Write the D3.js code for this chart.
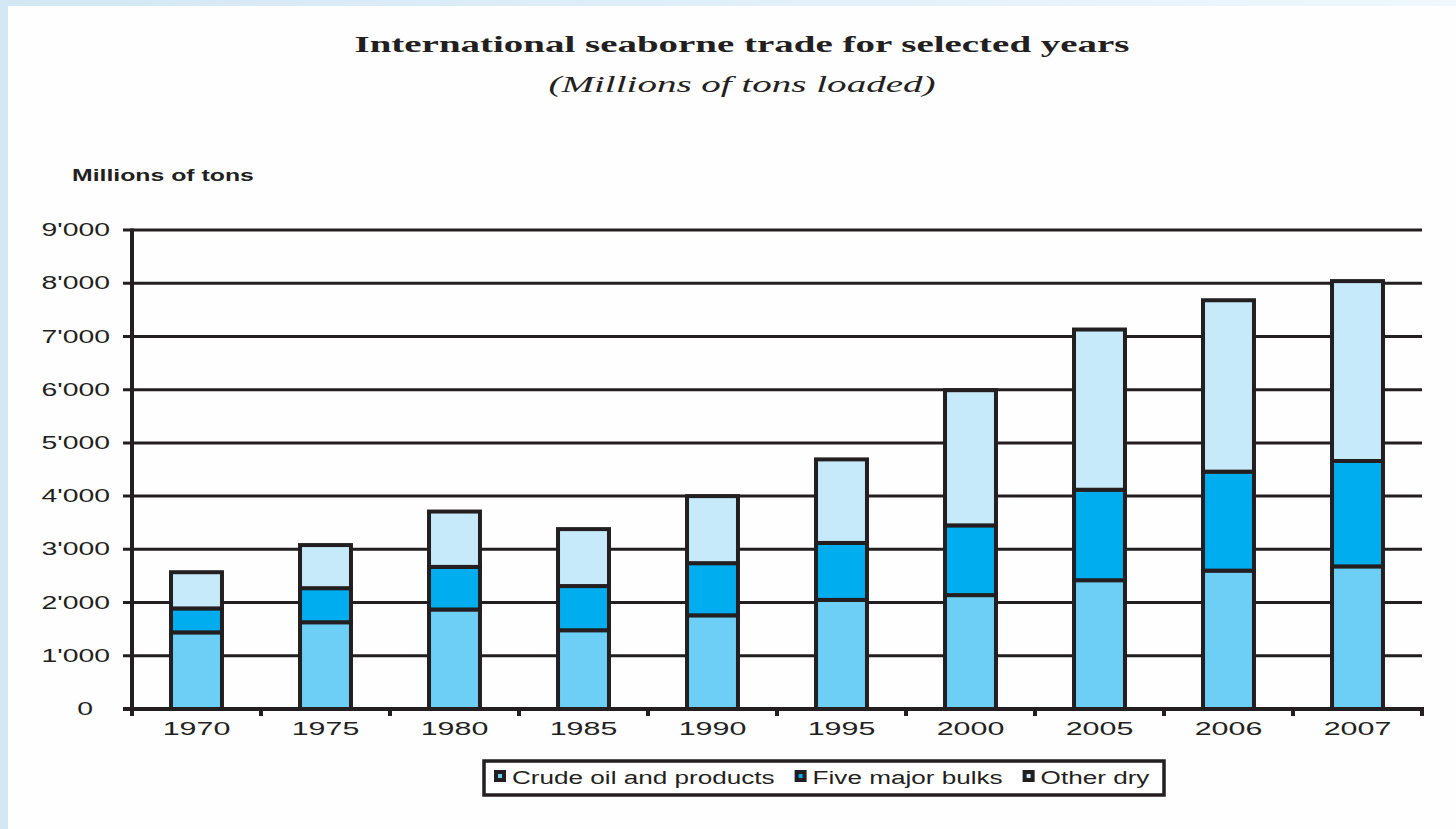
<!DOCTYPE html>
<html>
<head>
<meta charset="utf-8">
<script src="https://cdn.jsdelivr.net/npm/d3@7"></script>
<style>
  html, body { margin: 0; padding: 0; background: #ffffff; }
  svg { display: block; }
</style>
</head>
<body>
<svg id="chart" width="1456" height="829"></svg>
<script>
// ---------- data ----------
const years = ["1970", "1975", "1980", "1985", "1990", "1995", "2000", "2005", "2006", "2007"];
const crudeOil = [1440, 1630, 1870, 1480, 1760, 2050, 2140, 2420, 2600, 2680];
const fiveMajorBulks = [450, 640, 800, 830, 980, 1070, 1310, 1700, 1860, 1980];
const otherDry = [680, 810, 1040, 1070, 1260, 1570, 2540, 3010, 3220, 3380];
const seriesNames = ["Crude oil and products", "Five major bulks", "Other dry"];
const yTicks = [0, 1000, 2000, 3000, 4000, 5000, 6000, 7000, 8000, 9000];
const titleText = "International seaborne trade for selected years";
const subtitleText = "(Millions of tons loaded)";
const yAxisTitle = "Millions of tons";

// ---------- styling ----------
const colors = ["#6dcff6", "#00aeef", "#c7eafb"];
const ink = "#231f20";
const sans = "'Liberation Sans', Arial, sans-serif";
const serif = "'Liberation Serif', 'Times New Roman', serif";

const svg = d3.select("#chart");

// background frame
const defs = svg.append("defs");
const grad = defs.append("linearGradient").attr("id", "topg").attr("x1", "0").attr("x2", "1").attr("y1", "0").attr("y2", "0");
grad.append("stop").attr("offset", "0").attr("stop-color", "#d2e7f4");
grad.append("stop").attr("offset", "1").attr("stop-color", "#eef8fe");
svg.append("rect").attr("width", 1456).attr("height", 829).attr("fill", "url(#topg)");
svg.append("rect").attr("x", 0).attr("y", 0).attr("width", 8).attr("height", 829).attr("fill", "#d3e8f5");
svg.append("rect").attr("x", 8).attr("y", 6).attr("width", 1448).attr("height", 823).attr("fill", "#fefefe");

// helper: horizontally stretch a text selection
function stretch(sel, k) {
  sel.each(function () {
    const len = this.getComputedTextLength();
    d3.select(this).attr("textLength", len * k).attr("lengthAdjust", "spacingAndGlyphs");
  });
}

// ---------- scales ----------
const x = d3.scaleBand().domain(years).range([132, 1422]).paddingInner(0.605).paddingOuter(0.3025);
const y = d3.scaleLinear().domain([0, 9000]).range([709, 230]);
const step = x.step();

// ---------- titles ----------
svg.append("text").attr("x", 742).attr("y", 52).attr("text-anchor", "middle")
  .attr("font-family", serif).attr("font-weight", "bold").attr("font-size", 23).attr("fill", ink)
  .attr("textLength", 775).attr("lengthAdjust", "spacingAndGlyphs").text(titleText);
svg.append("text").attr("x", 742).attr("y", 92).attr("text-anchor", "middle")
  .attr("font-family", serif).attr("font-style", "italic").attr("font-size", 23).attr("fill", ink)
  .attr("textLength", 387).attr("lengthAdjust", "spacingAndGlyphs").text(subtitleText);

svg.append("text").attr("x", 72).attr("y", 181)
  .attr("font-family", sans).attr("font-weight", "bold").attr("font-size", 16).attr("fill", ink)
  .text(yAxisTitle).call(stretch, 1.55);

// ---------- gridlines ----------
svg.append("g").selectAll("line").data(yTicks.filter(d => d > 0)).join("line")
  .attr("x1", 123).attr("x2", 1422)
  .attr("y1", d => y(d)).attr("y2", d => y(d))
  .attr("stroke", ink).attr("stroke-width", 3);

// ---------- y axis labels ----------
const fmt = d => d === 0 ? "0" : d3.format(",")(d).replace(",", "'");
const yAxis = svg.append("g").attr("transform", "translate(123,0)")
  .call(d3.axisLeft(y).tickValues(yTicks).tickSize(0).tickPadding(13).tickFormat(fmt));
yAxis.select(".domain").remove();
yAxis.selectAll("text").attr("font-family", sans).attr("font-size", 17.5).attr("fill", ink)
  .attr("dx", d => d === 0 ? -17 : 0).call(stretch, 1.62);

// ---------- bars ----------
const table = years.map((yr, i) => ({ year: yr, crude: crudeOil[i], bulks: fiveMajorBulks[i], other: otherDry[i] }));
const stack = d3.stack().keys(["crude", "bulks", "other"]);
const layers = stack(table);

svg.append("g").selectAll("g").data(layers).join("g")
  .attr("fill", (d, i) => colors[i])
  .selectAll("rect").data(d => d).join("rect")
  .attr("x", d => x(d.data.year))
  .attr("width", x.bandwidth())
  .attr("y", d => y(d[1]))
  .attr("height", d => y(d[0]) - y(d[1]))
  .attr("stroke", ink).attr("stroke-width", 4).attr("stroke-linejoin", "miter");

// ---------- axes lines ----------
svg.append("line").attr("x1", 123).attr("x2", 1424).attr("y1", y(0)).attr("y2", y(0))
  .attr("stroke", ink).attr("stroke-width", 4);
svg.append("line").attr("x1", 132).attr("x2", 132).attr("y1", y(9000) - 1.5).attr("y2", y(0) + 7)
  .attr("stroke", ink).attr("stroke-width", 4);
svg.append("g").selectAll("line").data(d3.range(years.length + 1)).join("line")
  .attr("x1", i => 132 + i * step).attr("x2", i => 132 + i * step)
  .attr("y1", y(0)).attr("y2", y(0) + 7)
  .attr("stroke", ink).attr("stroke-width", 4);

// ---------- x axis labels ----------
const xAxis = svg.append("g").attr("transform", `translate(0,${y(0)})`)
  .call(d3.axisBottom(x).tickSize(0).tickPadding(13));
xAxis.select(".domain").remove();
xAxis.selectAll("text").attr("font-family", sans).attr("font-size", 19).attr("fill", ink).call(stretch, 1.6);

// ---------- legend ----------
const legend = svg.append("g");
legend.append("rect").attr("x", 484).attr("y", 761).attr("width", 680).attr("height", 34)
  .attr("fill", "#ffffff").attr("stroke", ink).attr("stroke-width", 3.5);
let lx = 496;
seriesNames.forEach((name, i) => {
  legend.append("rect").attr("x", lx).attr("y", 772).attr("width", 8).attr("height", 8)
    .attr("fill", colors[i]).attr("stroke", ink).attr("stroke-width", 4);
  const t = legend.append("text").attr("x", lx + 16).attr("y", 784)
    .attr("font-family", sans).attr("font-size", 18).attr("fill", ink).text(name);
  t.call(stretch, 1.45);
  lx = lx + 16 + (+t.attr("textLength")) + 22;
});
</script>
</body>
</html>
